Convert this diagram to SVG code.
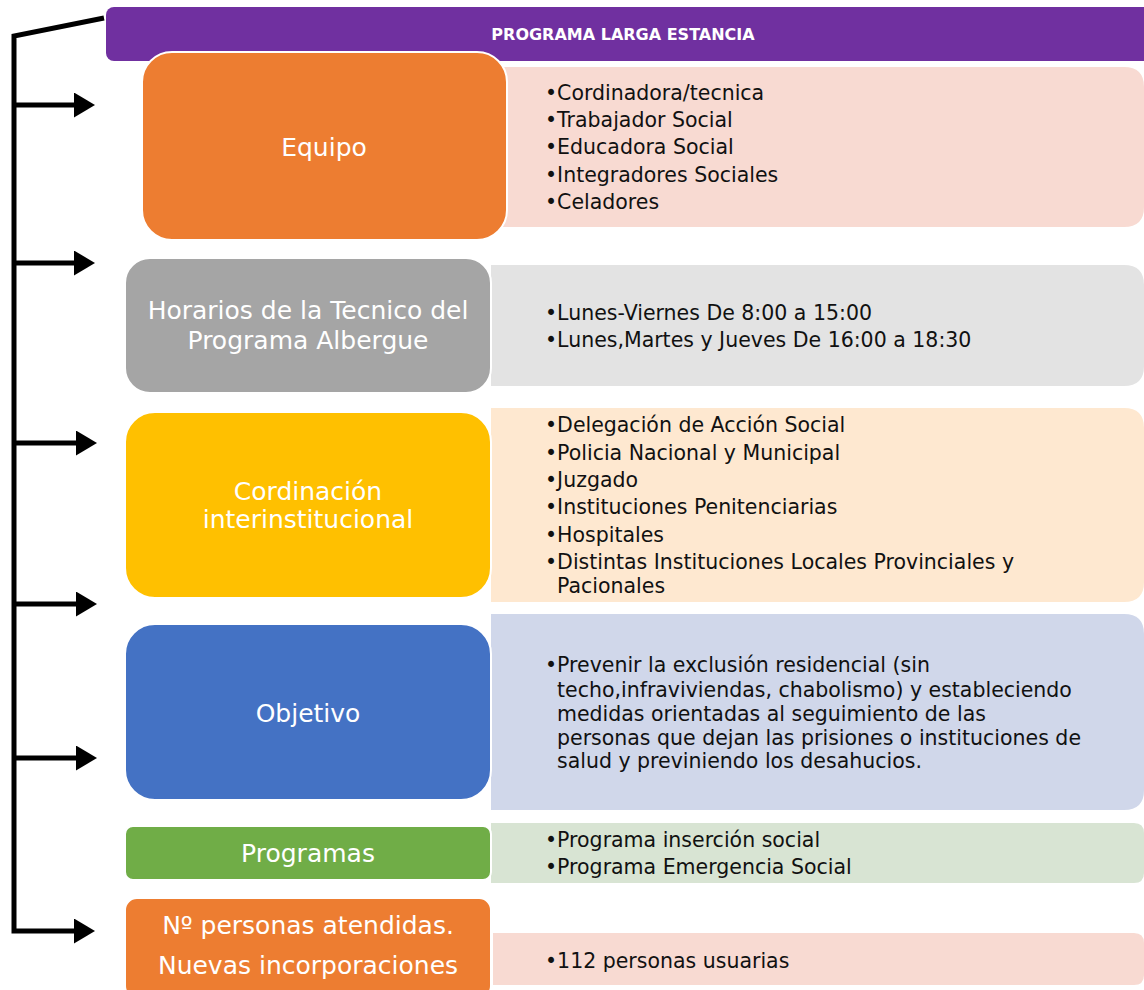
<svg xmlns="http://www.w3.org/2000/svg" width="1144" height="990" viewBox="0 0 1144 990">
<defs>
<style>
.lbl{font-family:"DejaVu Sans","Liberation Sans",sans-serif;font-size:25px;fill:#ffffff;text-anchor:middle}
.det{font-family:"DejaVu Sans","Liberation Sans",sans-serif;font-size:20.5px;fill:#111111}
.hdr{font-family:"DejaVu Sans","Liberation Sans",sans-serif;font-size:16px;font-weight:bold;fill:#ffffff;text-anchor:middle}
.con{stroke:#000;stroke-width:5;fill:none}
.box{stroke:#ffffff;stroke-width:2}
</style>
<marker id="ah" markerWidth="6" markerHeight="5" refX="0" refY="2.5" orient="auto" markerUnits="strokeWidth">
<path d="M0,0 L4.2,2.5 L0,5 Z" fill="#000"/>
</marker>
</defs>
<rect width="1144" height="990" fill="#ffffff"/>

<g id="header">
<rect x="106" y="7" width="1050" height="54" rx="8" fill="#7030A0"/>
<text class="hdr" x="623" y="40">PROGRAMA LARGA ESTANCIA</text>
</g>

<g id="equipo-detail">
<path d="M503,67 H1124 Q1144,67 1144,87 V207 Q1144,227 1124,227 H503 Z" fill="#F8DAD2"/>
<text class="det" x="545" y="100">•Cordinadora/tecnica</text>
<text class="det" x="545" y="127">•Trabajador Social</text>
<text class="det" x="545" y="154">•Educadora Social</text>
<text class="det" x="545" y="182">•Integradores Sociales</text>
<text class="det" x="545" y="209">•Celadores</text>
</g>
<g id="equipo">
<rect class="box" x="142" y="52" width="365" height="188" rx="30" fill="#ED7D31"/>
<text class="lbl" x="324" y="156">Equipo</text>
</g>

<g id="horarios-detail">
<path d="M491,265 H1124 Q1144,265 1144,285 V366 Q1144,386 1124,386 H491 Z" fill="#E3E3E3"/>
<text class="det" x="545" y="320">•Lunes-Viernes De 8:00 a 15:00</text>
<text class="det" x="545" y="347">•Lunes,Martes y Jueves De 16:00 a 18:30</text>
</g>
<g id="horarios">
<rect class="box" x="125" y="258" width="366" height="135" rx="25" fill="#A5A5A5"/>
<text class="lbl" x="308" y="319">Horarios de la Tecnico del</text>
<text class="lbl" x="308" y="349">Programa Albergue</text>
</g>

<g id="coordinacion-detail">
<path d="M491,408 H1124 Q1144,408 1144,428 V582 Q1144,602 1124,602 H491 Z" fill="#FEE8D0"/>
<text class="det" x="545" y="432">•Delegación de Acción Social</text>
<text class="det" x="545" y="460">•Policia Nacional y Municipal</text>
<text class="det" x="545" y="487">•Juzgado</text>
<text class="det" x="545" y="514">•Instituciones Penitenciarias</text>
<text class="det" x="545" y="542">•Hospitales</text>
<text class="det" x="545" y="569">•Distintas Instituciones Locales Provinciales y</text>
<text class="det" x="557" y="593">Pacionales</text>
</g>
<g id="coordinacion">
<rect class="box" x="125" y="412" width="366" height="186" rx="30" fill="#FFC000"/>
<text class="lbl" x="308" y="500">Cordinación</text>
<text class="lbl" x="308" y="528">interinstitucional</text>
</g>

<g id="objetivo-detail">
<path d="M491,614 H1124 Q1144,614 1144,634 V790 Q1144,810 1124,810 H491 Z" fill="#D0D7EA"/>
<text class="det" x="545" y="672">•Prevenir la exclusión residencial (sin</text>
<text class="det" x="557" y="697">techo,infraviviendas, chabolismo) y estableciendo</text>
<text class="det" x="557" y="721">medidas orientadas al seguimiento de las</text>
<text class="det" x="557" y="745">personas que dejan las prisiones o instituciones de</text>
<text class="det" x="557" y="768">salud y previniendo los desahucios.</text>
</g>
<g id="objetivo">
<rect class="box" x="125" y="624" width="366" height="176" rx="30" fill="#4472C4"/>
<text class="lbl" x="308" y="722">Objetivo</text>
</g>

<g id="programas-detail">
<path d="M491,823 H1134 Q1144,823 1144,833 V873 Q1144,883 1134,883 H491 Z" fill="#D8E4D3"/>
<text class="det" x="545" y="847">•Programa inserción social</text>
<text class="det" x="545" y="874">•Programa Emergencia Social</text>
</g>
<g id="programas">
<rect class="box" x="125" y="826" width="366" height="54" rx="8" fill="#70AD47"/>
<text class="lbl" x="308" y="862">Programas</text>
</g>

<g id="personas-detail">
<path d="M493,933 H1134 Q1144,933 1144,943 V975 Q1144,985 1134,985 H493 Z" fill="#F8DAD2"/>
<text class="det" x="545" y="968">•112 personas usuarias</text>
</g>
<g id="personas">
<rect class="box" x="125" y="898" width="366" height="100" rx="12" fill="#ED7D31"/>
<text class="lbl" x="308" y="934">Nº personas atendidas.</text>
<text class="lbl" x="308" y="974">Nuevas incorporaciones</text>
</g>

<g id="connectors">
<path class="con" d="M104,18 L14,36 L14,931 L74,931" marker-end="url(#ah)"/>
<path class="con" d="M14,105 L74,105" marker-end="url(#ah)"/>
<path class="con" d="M14,263 L74,263" marker-end="url(#ah)"/>
<path class="con" d="M14,443 L76,443" marker-end="url(#ah)"/>
<path class="con" d="M14,604 L76,604" marker-end="url(#ah)"/>
<path class="con" d="M14,758 L76,758" marker-end="url(#ah)"/>
</g>
</svg>
